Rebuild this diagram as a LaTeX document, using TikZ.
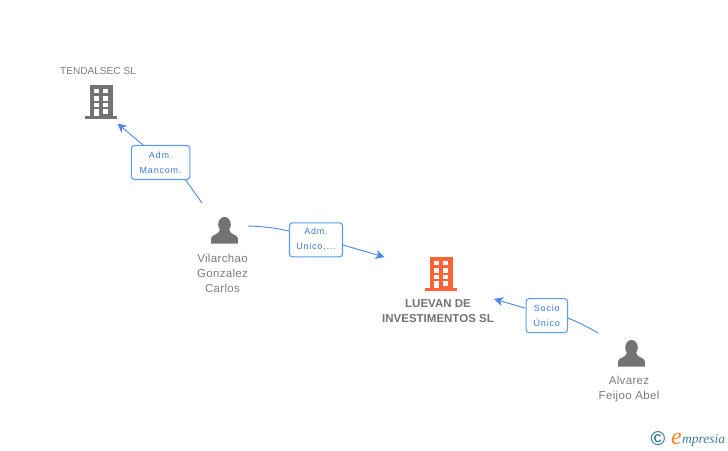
\documentclass[tikz,border=0pt]{standalone}
\usepackage{fontspec}
\setmainfont{Liberation Sans}
\newfontfamily\logofont{Liberation Serif}
\usetikzlibrary{arrows.meta}
\definecolor{linkblue}{HTML}{4A88E4}
\definecolor{boxblue}{HTML}{5C9CEC}
\definecolor{labblue}{HTML}{3A7AD6}
\definecolor{icongrey}{HTML}{737373}
\definecolor{txtgrey}{HTML}{7D7D7D}
\definecolor{hotorange}{HTML}{FF6237}
\definecolor{logoteal}{HTML}{3F7F96}
\definecolor{logoorange}{HTML}{F08A1E}
\tikzset{
  x=1pt,y=-1pt,
  building/.pic={
    \fill[pic actions] (5,0) rectangle (27.5,32);
    \fill[pic actions] (0,31) rectangle (32,34);
    \foreach \wy in {3.5,11,17.5,24}{
      \fill[white] (9,\wy) rectangle +(4.7,4.5);
      \fill[white] (18.3,\wy) rectangle +(4.7,4.5);
    }
    \fill[white] (9,24) rectangle (13.7,31.2);
  },
  person/.pic={
    \fill[pic actions] (0,0) ellipse (6.3 and 7.6);
    \fill[pic actions] (-13.3,19) -- (-13.3,13.5) .. controls (-13,10) and (-5.5,10.5) .. (-4.5,5)
      -- (4.5,5) .. controls (5.5,10.5) and (13,10) .. (13.3,13.5) -- (13.3,19) -- cycle;
  },
  nametext/.style={text=txtgrey,align=center,inner sep=0pt,font=\fontsize{11.5}{15}\selectfont\addfontfeatures{LetterSpace=3}},
  toptext/.style={text=txtgrey,align=center,inner sep=0pt,font=\fontsize{10.1}{15}\selectfont},
  maintext/.style={text=icongrey,align=center,inner sep=0pt,font=\fontsize{11.5}{15}\selectfont\bfseries},
  linklabel/.style={draw=boxblue,line width=1.1pt,rounded corners=3pt,fill=white,text=labblue,align=center,inner sep=0pt,
    font=\fontsize{9}{15}\selectfont\addfontfeatures{LetterSpace=9}},
  link/.style={draw=linkblue,line width=0.9pt},
  linkarrow/.style={link,-{Stealth[length=9pt,width=9pt,inset=2.5pt]}},
}
\begin{document}
\begin{tikzpicture}
\useasboundingbox (0,0) rectangle (728,450);
\fill[white] (0,0) rectangle (728,450);

\pic[icongrey] at (85,85) {building};
\pic[hotorange] at (425,257) {building};
\pic[icongrey] at (224.5,224.5) {person};
\pic[icongrey] at (631.5,347.5) {person};

\node[toptext] (tendalsec) at (98,71) {TENDALSEC SL};
\node[nametext] (vilarchao) at (222.5,273) {Vilarchao\\Gonzalez\\Carlos};
\node[maintext] (luevan) at (438,311) {LUEVAN DE\\INVESTIMENTOS SL};
\node[nametext] (alvarez) at (629,389.5) {Alvarez\\Feijoo Abel};

\node[linklabel,minimum width=58.5pt,minimum height=34pt] (lab1) at (160.6,162.5) {Adm.\\Mancom.};
\node[linklabel,minimum width=53pt,minimum height=34pt] (lab2) at (316,239.8) {Adm.\\Unico,...};
\node[linklabel,minimum width=41.5pt,minimum height=34pt] (lab3) at (546.8,315.6) {Socio\\Único};

\coordinate (tail1) at (202,203);
\coordinate (tip1) at (117.5,123.5);
\coordinate (tail2) at (248,226);
\coordinate (tip2) at (384.5,257);
\coordinate (tail3) at (598,333);
\coordinate (tip3) at (494,299);

\draw[link] (tail1) -- (lab1.-35);
\draw[linkarrow] (lab1.135) -- (tip1);
\draw[link] (tail2) .. controls (265,226.5) and (278,228.5) .. (lab2.162);
\draw[linkarrow] (lab2.-11) -- (tip2);
\draw[link] (tail3) .. controls (588,327) and (578,322) .. (lab3.-7);
\draw[linkarrow] (lab3.161) -- (tip3);

\node[inner sep=0pt,text=logoteal,font=\fontsize{20}{20}\selectfont\bfseries] (copyr) at (658,439) {©};
\node[inner sep=0pt,anchor=base west,text=logoorange,font=\logofont\itshape\fontsize{24}{24}\selectfont] (logoe) at (671,444.5) {e};
\node[inner sep=0pt,anchor=base west,text=logoteal,font=\logofont\itshape\fontsize{13.5}{14}\selectfont] (logot) at (682,443) {mpresia};
\end{tikzpicture}
\end{document}
